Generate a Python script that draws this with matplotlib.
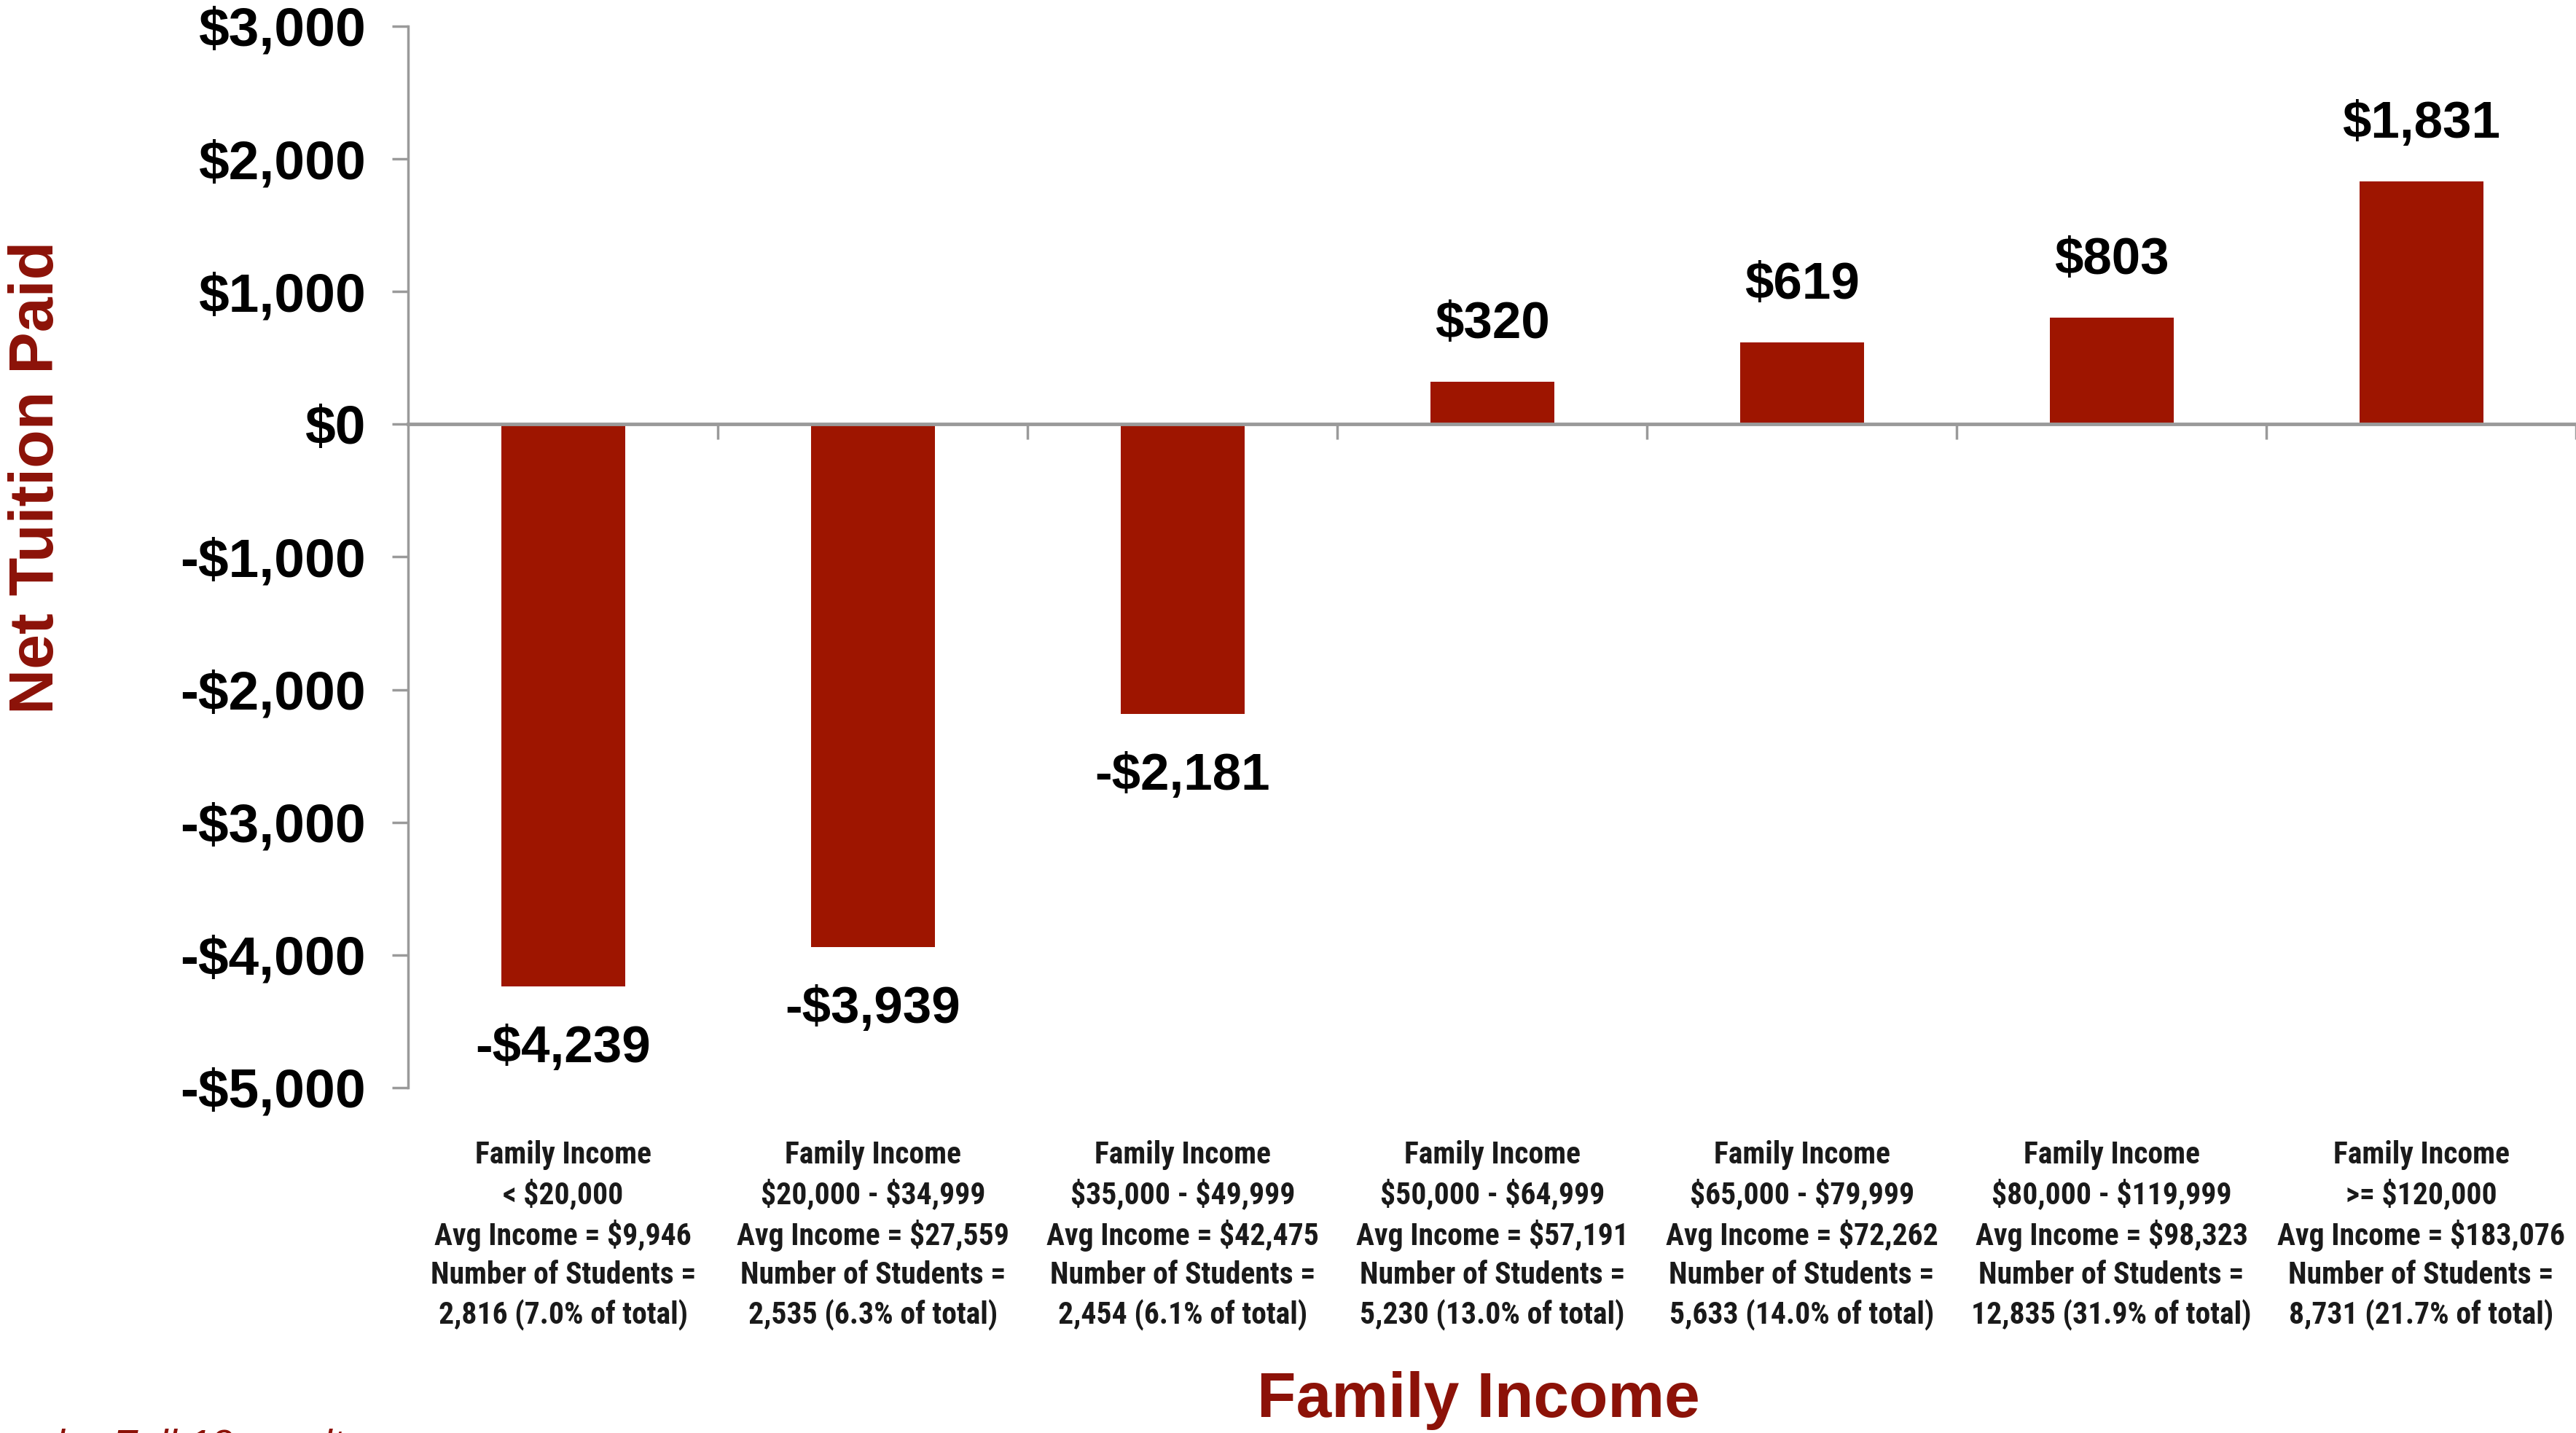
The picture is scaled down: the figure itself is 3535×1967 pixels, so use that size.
import matplotlib
matplotlib.use("Agg")
import matplotlib.pyplot as plt
from matplotlib import font_manager
from matplotlib.ticker import FuncFormatter, FixedLocator

# data
net_tuition = [-4239, -3939, -2181, 320, 619, 803, 1831]
income_ranges = ["< $20,000", "$20,000 - $34,999", "$35,000 - $49,999",
                 "$50,000 - $64,999", "$65,000 - $79,999",
                 "$80,000 - $119,999", ">= $120,000"]
avg_income = ["$9,946", "$27,559", "$42,475", "$57,191", "$72,262",
              "$98,323", "$183,076"]
num_students = ["2,816 (7.0% of total)", "2,535 (6.3% of total)",
                "2,454 (6.1% of total)", "5,230 (13.0% of total)",
                "5,633 (14.0% of total)", "12,835 (31.9% of total)",
                "8,731 (21.7% of total)"]
y_ticks = [3000, 2000, 1000, 0, -1000, -2000, -3000, -4000, -5000]

BAR = "#9e1500"
DARKRED = "#8c1208"
SPINE = "#9a9a9a"

plt.rcParams["text.parse_math"] = False

# pick a narrow font for the category labels if one is installed
fonts = font_manager.fontManager.ttflist
names = set(f.name for f in fonts)
narrow = dict(family="Liberation Sans", size=25, linespacing=1.68)
if "Liberation Sans Narrow" in names:
    narrow = dict(family="Liberation Sans Narrow", size=30, linespacing=1.36)
elif "Roboto Condensed" in names:
    narrow = dict(family="Roboto Condensed", size=30, linespacing=1.37)
elif any(f.name == "DejaVu Sans" and "condensed" in str(f.stretch)
         for f in fonts):
    narrow = dict(family="DejaVu Sans", size=27, linespacing=1.4,
                  stretch="condensed")

plt.rcParams["font.family"] = ["Liberation Sans", "DejaVu Sans"]


def money(v, pos=None):
    v = int(round(v))
    if v < 0:
        return "-${:,}".format(-v)
    return "${:,}".format(v)


fig = plt.figure(figsize=(35.35, 19.67), dpi=100)
ax = fig.add_axes([0.1585, 0.241, 0.8415, 0.7407])

x = list(range(len(net_tuition)))
ax.bar(x, net_tuition, width=0.4, color=BAR, zorder=2)

ax.set_xlim(-0.5, len(net_tuition) - 0.5)
ax.set_ylim(-5000, 3000)

# spines
for s in ["top", "right"]:
    ax.spines[s].set_visible(False)
ax.spines["left"].set_color(SPINE)
ax.spines["left"].set_linewidth(2.5)
ax.spines["bottom"].set_position(("data", 0))
ax.spines["bottom"].set_color(SPINE)
ax.spines["bottom"].set_linewidth(3.5)
ax.spines["bottom"].set_zorder(3)

ax.yaxis.set_major_locator(FixedLocator(y_ticks))
ax.yaxis.set_major_formatter(FuncFormatter(money))
ax.tick_params(axis="y", direction="out", length=16, width=2.5,
               color=SPINE, labelsize=54, pad=26)
for t in ax.get_yticklabels():
    t.set_fontweight("bold")
ax.xaxis.set_major_locator(FixedLocator([i + 0.5 for i in x]))
ax.tick_params(axis="x", direction="out", length=15, width=2.5,
               color=SPINE, labelbottom=False)

# value labels
for i, v in enumerate(net_tuition):
    off = 56 if v > 0 else -62
    ax.annotate(money(v), (i, v), xytext=(0, off),
                textcoords="offset points", ha="center", va="center",
                fontsize=51, fontweight="bold", color="black")

# category labels below the plot area
for i in x:
    lbl = "Family Income\n{}\nAvg Income = {}\nNumber of Students =\n{}".format(
        income_ranges[i], avg_income[i], num_students[i])
    ax.text(i, -5000 - 72 / 182.0 * 1000, lbl, ha="center", va="top",
            fontsize=narrow["size"], fontweight="bold",
            family=narrow["family"],
            fontstretch=narrow.get("stretch", "normal"),
            linespacing=narrow["linespacing"], color="#1a1a1a",
            clip_on=False)

fig.text(0.0145, 0.667, "Net Tuition Paid", rotation=90, ha="center",
         va="center", fontsize=62, fontweight="bold", color=DARKRED)
fig.text(0.574, 0.0225, "Family Income", ha="center", va="center",
         fontsize=63, fontweight="bold", color=DARKRED)
fig.text(0.141, -0.010, "Leader Fall 12 results", ha="right", va="center",
         fontsize=40, style="italic", color=DARKRED)

fig.savefig("out.png", dpi=100, facecolor="white")
